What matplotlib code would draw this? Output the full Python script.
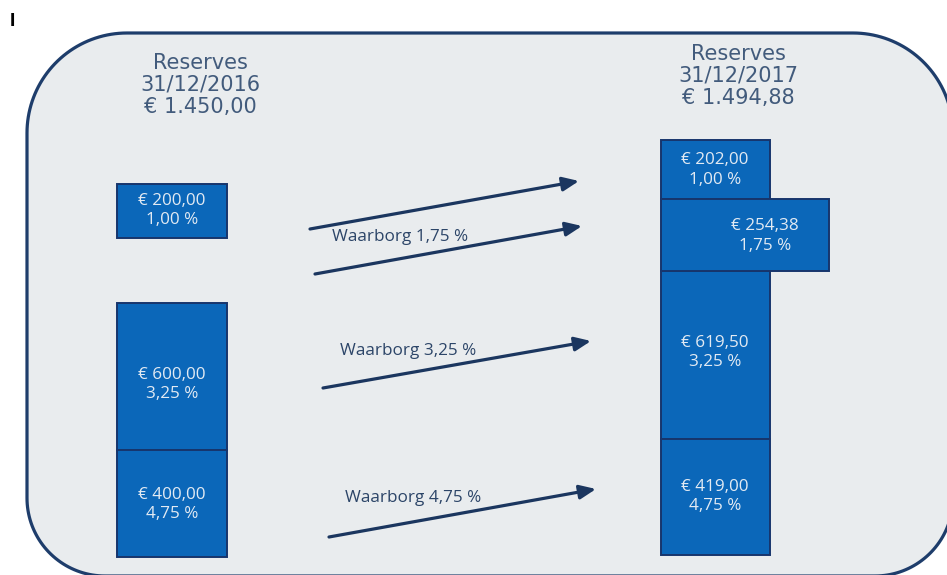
import matplotlib
matplotlib.use("Agg")
import numpy as np
import matplotlib.pyplot as plt
from matplotlib.patches import Polygon, Rectangle

# ---------------- data ----------------
left_values = [200.00, 600.00, 400.00]
left_rates = ["1,00 %", "3,25 %", "4,75 %"]
right_values = [202.00, 254.38, 619.50, 419.00]
right_rates = ["1,00 %", "1,75 %", "3,25 %", "4,75 %"]
header_title = "Reserves"
header_dates = ["31/12/2016", "31/12/2017"]
header_totals = [1450.00, 1494.88]
arrow_labels = [None, "Waarborg 1,75 %", "Waarborg 3,25 %", "Waarborg 4,75 %"]

# ---------------- layout (pixel coords) ----------------
W, H = 947, 575
left_boxes = [(117, 184, 110, 54), (117, 303, 110, 147), (117, 450, 110, 107)]
right_boxes = [(661, 140, 109, 59), (661, 199, 168, 72), (661, 271, 109, 168), (661, 439, 109, 116)]
right_text_x = [715, 765, 715, 715]
left_text_y = [201, 375, 495]
right_text_y = [160, 226, 343, 487]
header_pos = [(200, 63), (738, 54)]
arrows = [((310, 229), (579, 181)), ((315, 274), (582, 226)),
          ((323, 388), (591, 341)), ((329, 537), (596, 489))]
label_pos = [None, (332, 237), (340, 351), (345, 498)]
panel_l, panel_t, panel_r, panel_b = 27, 33, 953, 576
r_top, r_bot = 100, 78

# ---------------- styles ----------------
BOX_FILL = "#0b67b9"
BOX_EDGE = "#17356c"
BOX_TEXT = "#e2eaf3"
HEAD_TEXT = "#425b7c"
LABEL_TEXT = "#2c4568"
ARROW = "#1b365f"
BG = "#e9ecee"
BORDER = "#1e3d6b"


def euro(v):
    s = f"{v:,.2f}"
    s = s.replace(",", "X").replace(".", ",").replace("X", ".")
    return "€ " + s


def rounded_outline(l, t, r, b, rt, rb, n=40):
    pts = []
    for a in np.linspace(np.pi, 1.5 * np.pi, n):
        pts.append((l + rt + rt * np.cos(a), t + rt + rt * np.sin(a)))
    for a in np.linspace(1.5 * np.pi, 2 * np.pi, n):
        pts.append((r - rt + rt * np.cos(a), t + rt + rt * np.sin(a)))
    for a in np.linspace(0, 0.5 * np.pi, n):
        pts.append((r - rb + rb * np.cos(a), b - rb + rb * np.sin(a)))
    for a in np.linspace(0.5 * np.pi, np.pi, n):
        pts.append((l + rb + rb * np.cos(a), b - rb + rb * np.sin(a)))
    return np.array(pts)


fig = plt.figure(figsize=(W / 100, H / 100), dpi=100)
ax = fig.add_axes([0, 0, 1, 1])
ax.set_xlim(0, W)
ax.set_ylim(H, 0)
ax.axis("off")

panel = Polygon(rounded_outline(panel_l, panel_t, panel_r, panel_b, r_top, r_bot),
                closed=True, facecolor=BG, edgecolor=BORDER, lw=2.3, zorder=0)
ax.add_patch(panel)

ax.text(12, 21, "I", fontsize=14, fontweight="bold", color="black",
        ha="center", va="center", family="Liberation Sans")

# headers
for (hx, hy), date, total in zip(header_pos, header_dates, header_totals):
    for i, line in enumerate([header_title, date, euro(total)]):
        ax.text(hx, hy + i * 21.8, line, fontsize=15, color=HEAD_TEXT,
                ha="center", va="center", family="DejaVu Sans")


def draw_box(rect, tx, ty, value, rate):
    x, y, w, h = rect
    ax.add_patch(Rectangle((x, y), w, h, facecolor=BOX_FILL, edgecolor=BOX_EDGE,
                           lw=1.4, zorder=2))
    ax.text(tx, ty, euro(value), fontsize=12.3, color=BOX_TEXT, ha="center",
            va="center", family="Open Sans", zorder=3)
    ax.text(tx, ty + 19.5, rate, fontsize=12.3, color=BOX_TEXT, ha="center",
            va="center", family="Open Sans", zorder=3)


for rect, ty, v, r in zip(left_boxes, left_text_y, left_values, left_rates):
    draw_box(rect, rect[0] + rect[2] / 2, ty, v, r)

for i in [0, 2, 3, 1]:
    draw_box(right_boxes[i], right_text_x[i], right_text_y[i], right_values[i], right_rates[i])

for (start, end) in arrows:
    ax.annotate("", xy=end, xytext=start,
                arrowprops=dict(arrowstyle="-|>,head_length=0.7,head_width=0.3",
                                mutation_scale=14, lw=2.3, color=ARROW,
                                shrinkA=0, shrinkB=0), zorder=4)

for lab, pos in zip(arrow_labels, label_pos):
    if lab is None:
        continue
    ax.text(pos[0], pos[1], lab, fontsize=12.3, color=LABEL_TEXT, ha="left",
            va="center", family="Open Sans", zorder=5)

fig.savefig("out.png", dpi=100, facecolor="white")
